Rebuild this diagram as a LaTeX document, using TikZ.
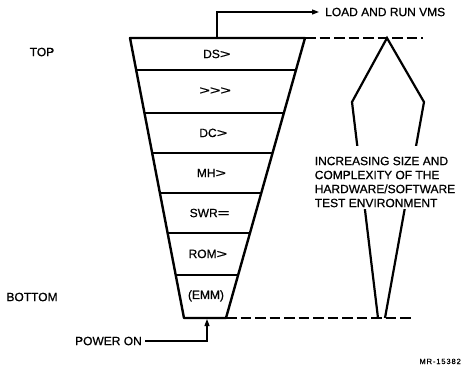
\documentclass[tikz,border=0pt]{standalone}
\usepackage{fontspec}
\setmainfont{Liberation Sans}[FakeBold=0.7]
\newfontfamily\heavy{Liberation Sans}[FakeBold=0.7]
\usetikzlibrary{arrows.meta,calc}

% widened prompt characters
\newcommand{\wgt}{\scalebox{1.5}[1]{>}}
\newcommand{\weq}{\scalebox{1.7}[1]{=}}

\begin{document}
\begin{tikzpicture}[x=1pt,y=-1pt,
  lbl/.style={font=\heavy\fontsize{12}{14}\selectfont, inner sep=0pt},
  edge/.style={line width=2.4pt, line join=round},
  dashln/.style={line width=1.5pt, dash pattern=on 10.5pt off 4pt},
  conn/.style={line width=1.2pt, -{Triangle[length=7pt,width=5pt]}},
  spindle/.style={line width=2.2pt, line join=miter},
]
\useasboundingbox (0,0) rectangle (461,367);

% funnel of test stages
\coordinate (tl) at (130,38);
\coordinate (tr) at (305,38);
\coordinate (bl) at (184,318);
\coordinate (br) at (226,318);
\draw[edge] (tl) -- (tr) -- (br) -- (bl) -- cycle;

% stage separators
\foreach \f/\w in {0.1143/1.5, 0.268/1.5, 0.411/1.5, 0.554/1.5, 0.696/2.6, 0.846/1.5} {
  \draw[line width=\w pt] ($(tl)!\f!(bl)$) -- ($(tr)!\f!(br)$);
}

% stage prompts
\foreach \f/\n/\t in {0.057/ds/DS\wgt, 0.189/gt/\wgt\wgt\wgt, 0.339/dc/DC\wgt,
                     0.482/mh/MH\wgt, 0.625/swr/SWR\weq, 0.771/rom/ROM\wgt, 0.921/emm/(EMM)} {
  \node[lbl] (\n) at ($($(tl)!\f!(bl)$)!0.5!($(tr)!\f!(br)$)$) {\t};
}

% side labels
\node[lbl] (top) at (42,52) {TOP};
\node[lbl] (bottom) at (32,297) {BOTTOM};

% exit to VMS
\node[lbl, anchor=west] (vms) at (325,12) {LOAD AND RUN VMS};
\coordinate (vmsfoot) at (217,38);
\draw[conn] (vmsfoot) |- ([xshift=-6pt]vms.west);

% power-on entry
\node[lbl, anchor=east] (pwr) at (142,341) {POWER ON};
\coordinate (pwrfoot) at (207,319);
\draw[conn] ([xshift=3pt]pwr.east) -| (pwrfoot);

% dashed level marks
\coordinate (dtop) at (423,38);
\coordinate (dbot) at (413,318);
\draw[dashln] (tr) -- (dtop);
\draw[dashln] (br) -- (dbot);

% growth spindle
\coordinate (sa) at (387,38);
\coordinate (sl) at (352,102);
\coordinate (sr) at (424,102);
\coordinate (sbl) at (378,318);
\coordinate (sbr) at (385,318);
\draw[spindle] (sbl) -- (sl) -- (sa) -- (sr) -- (sbr);

% caption across the spindle
\fill[white] (345,146) rectangle (430,209);
\node[lbl, align=left] (env) at (385,182) {INCREASING SIZE AND\\COMPLEXITY OF THE\\HARDWARE/SOFTWARE\\TEST ENVIRONMENT};

% figure number
\node[inner sep=0pt, anchor=base east, font=\heavy\fontsize{7.5}{8}\selectfont\addfontfeatures{LetterSpace=12}] (fig) at (461,364) {MR-15382};
\end{tikzpicture}
\end{document}
